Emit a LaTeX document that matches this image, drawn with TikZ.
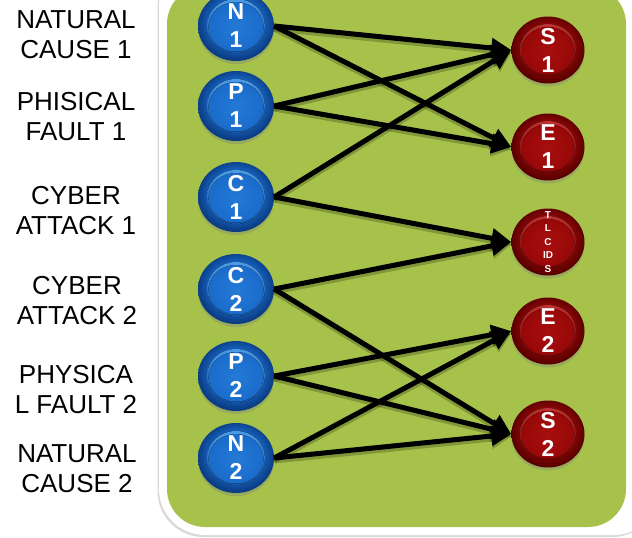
\documentclass[tikz,border=0pt]{standalone}
\usepackage{fontspec}
\setmainfont{Liberation Sans}
\usetikzlibrary{arrows.meta,shadows,shapes.geometric}

\definecolor{panelgreen}{HTML}{A6C24B}
% blue buttons
\definecolor{bluering}{HTML}{1763C0}
\definecolor{bluedark}{HTML}{0B3D84}
\definecolor{bluetop}{HTML}{55A6EE}
\definecolor{bluebot}{HTML}{0E4C98}
\definecolor{bluein}{HTML}{2479D6}
\definecolor{blueface}{HTML}{1A6CCB}
% red buttons
\definecolor{redring}{HTML}{8E0707}
\definecolor{reddark}{HTML}{5A0000}
\definecolor{redtop}{HTML}{C83A3A}
\definecolor{redbot}{HTML}{640000}
\definecolor{redin}{HTML}{A80E0E}
\definecolor{redface}{HTML}{980808}

% outer ring shadings, lit slightly from above
\pgfdeclareradialshading{blueball}{\pgfpoint{0bp}{3bp}}{%
  color(0bp)=(bluering); color(17bp)=(bluering); color(25bp)=(bluedark); color(50bp)=(bluedark)}
\pgfdeclareradialshading{redball}{\pgfpoint{0bp}{3bp}}{%
  color(0bp)=(redring); color(17bp)=(redring); color(25bp)=(reddark); color(50bp)=(reddark)}

\tikzset{
  ballshadow/.style={drop shadow={shadow xshift=0pt, shadow yshift=-3pt, opacity=.35}},
  bluecap/.style={path picture={
    \fill[top color=bluetop, bottom color=bluebot]
      (path picture bounding box.center) ellipse [x radius=29pt, y radius=27pt];
    \fill[inner color=bluein, outer color=blueface]
      ([yshift=-0.8pt]path picture bounding box.center) ellipse [x radius=27.5pt, y radius=24.8pt];
  }},
  redcap/.style={path picture={
    \fill[top color=redtop, bottom color=redbot]
      (path picture bounding box.center) ellipse [x radius=28pt, y radius=26pt];
    \fill[inner color=redin, outer color=redface]
      ([yshift=-0.8pt]path picture bounding box.center) ellipse [x radius=26.5pt, y radius=23.8pt];
  }},
  srcnode/.style={ellipse, minimum width=76pt, minimum height=70pt, inner sep=0pt,
    shading=blueball, ballshadow, bluecap, text=white, align=center,
    font=\bfseries\fontsize{23}{28}\selectfont},
  dstnode/.style={ellipse, minimum width=73pt, minimum height=67pt, inner sep=0pt,
    shading=redball, ballshadow, redcap, text=white, align=center,
    font=\bfseries\fontsize{23}{28}\selectfont},
  lab/.style={inner sep=0pt, align=center, font=\fontsize{26}{30}\selectfont},
  link/.style={line width=5pt, -{Triangle[length=20pt 0 0, width=19pt 0 0]}},
  linkshadow/.style={line width=6pt, draw=black, opacity=.22,
    -{Triangle[length=20pt 0 0, width=20pt 0 0]}}
}

\begin{document}
\begin{tikzpicture}[x=1pt, y=-1pt]
\useasboundingbox (0,0) rectangle (632,538);

% framed green panel
\path[fill=white, rounded corners=46pt,
      drop shadow={shadow xshift=-1.5pt, shadow yshift=-2pt, opacity=.3}]
  (159,-40) rectangle (660,535);
\path[fill=panelgreen, rounded corners=38pt] (167,-14) rectangle (626,527);

% causes
\node[lab] (l1) at (76,34.5) {NATURAL\\CAUSE 1};
\node[lab] (l2) at (76,117) {PHISICAL\\FAULT 1};
\node[lab] (l3) at (76,210.5) {CYBER\\ATTACK 1};
\node[lab] (l4) at (77,301) {CYBER\\ATTACK 2};
\node[lab] (l5) at (76,390) {PHYSICA\\L FAULT 2};
\node[lab] (l6) at (77,469) {NATURAL\\CAUSE 2};

% source nodes
\node[srcnode] (N1) at (236,26) {N\\1};
\node[srcnode] (P1) at (236,106) {P\\1};
\node[srcnode] (C1) at (236,197) {C\\1};
\node[srcnode] (C2) at (236,289) {C\\2};
\node[srcnode] (P2) at (236,376) {P\\2};
\node[srcnode] (N2) at (236,458) {N\\2};

% target nodes
\node[dstnode] (S1) at (548,50) {S\\1};
\node[dstnode] (E1) at (548,147) {E\\1};
\node[dstnode, inner sep=-14pt, font=\bfseries\fontsize{10}{13.5}\selectfont] (T) at (548,242) {T\\L\\C\\ID\\S};
\node[dstnode] (E2) at (548,331) {E\\2};
\node[dstnode] (S2) at (548,434) {S\\2};

% links
\foreach \a/\b in {N1/S1,N1/E1,P1/S1,P1/E1,C1/S1,C1/T,C2/T,C2/S2,P2/E2,P2/S2,N2/E2,N2/S2}{
  \draw[linkshadow, transform canvas={yshift=-2.5pt}] (\a.east) -- (\b.west);
}
\foreach \a/\b in {N1/S1,N1/E1,P1/S1,P1/E1,C1/S1,C1/T,C2/T,C2/S2,P2/E2,P2/S2,N2/E2,N2/S2}{
  \draw[link] (\a.east) -- (\b.west);
}
\end{tikzpicture}
\end{document}
